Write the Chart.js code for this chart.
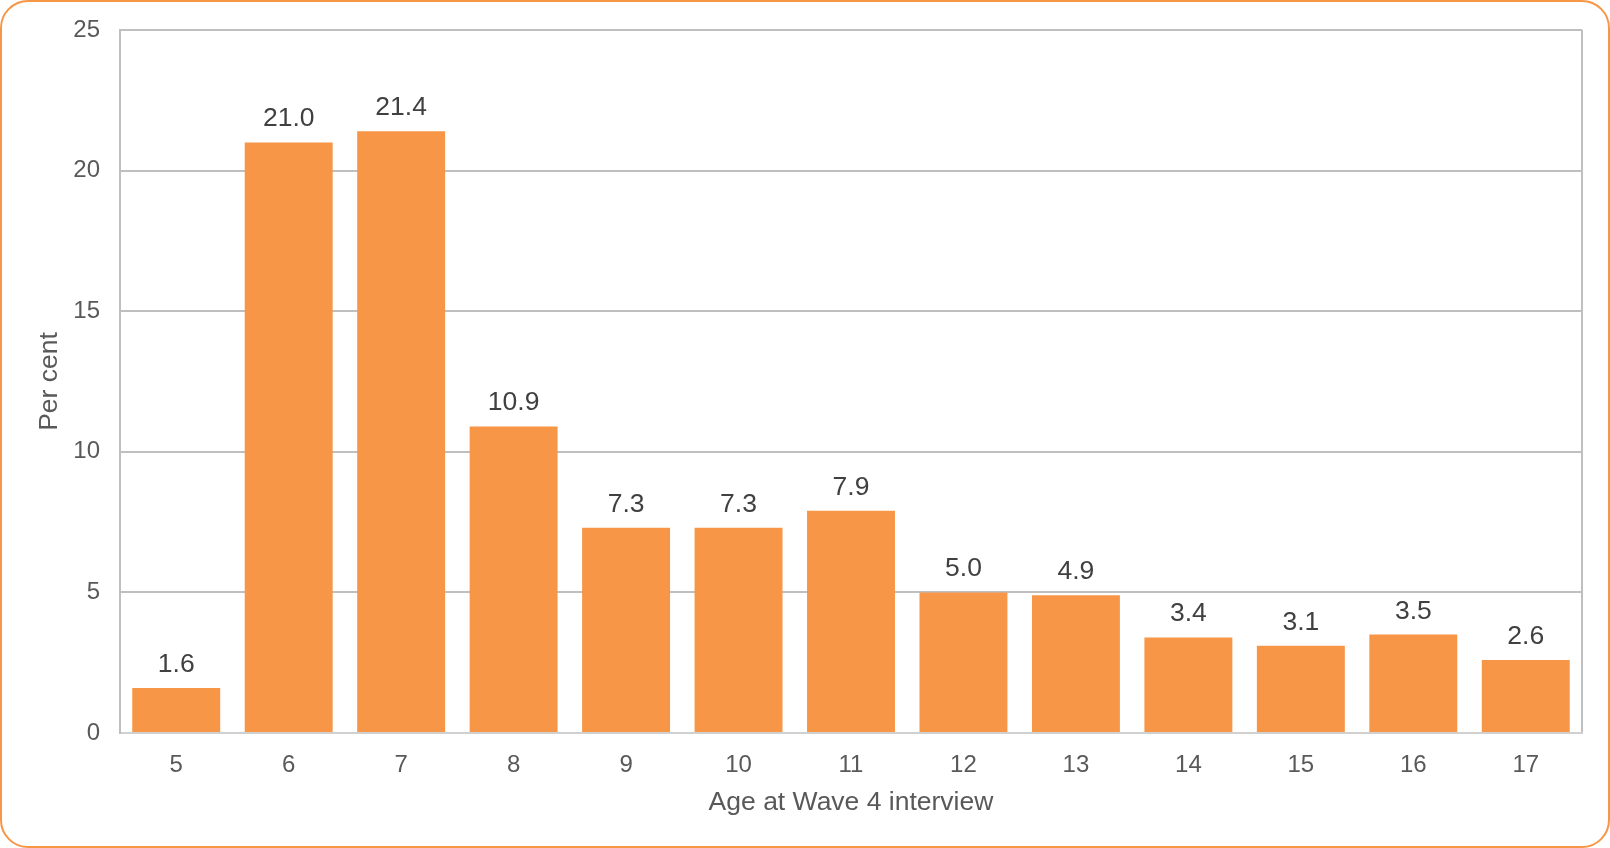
<!DOCTYPE html>
<html>
<head>
<meta charset="utf-8">
<title>Age at Wave 4 interview</title>
<script src="https://cdn.jsdelivr.net/npm/chart.js@4.4.1/dist/chart.umd.min.js"></script>
<style>
  html, body { margin: 0; padding: 0; background: #ffffff; }
  .chart-wrap { position: relative; width: 1610px; height: 848px; }
  .chart-frame {
    position: absolute; left: 0; top: 0; right: 0; bottom: 0;
    border: 2px solid #F79646; border-radius: 28px;
    pointer-events: none;
  }
  canvas { display: block; }
</style>
</head>
<body>
<div class="chart-wrap">
  <canvas id="ageChart" width="1610" height="848"></canvas>
  <div class="chart-frame"></div>
</div>
<script>
// Share of respondents by age at the Wave 4 interview
const ages = ['5', '6', '7', '8', '9', '10', '11', '12', '13', '14', '15', '16', '17'];
const perCent = [1.6, 21.0, 21.4, 10.9, 7.3, 7.3, 7.9, 5.0, 4.9, 3.4, 3.1, 3.5, 2.6];
const yTicks = [0, 5, 10, 15, 20, 25];

const FONT = '"Liberation Sans", Arial, sans-serif';
const GRID = '#BFBFBF';

// Writes each bar's value just above it
const barValues = {
  id: 'barValues',
  afterDatasetsDraw(chart) {
    const ctx = chart.ctx;
    const meta = chart.getDatasetMeta(0);
    ctx.save();
    ctx.font = '26.5px ' + FONT;
    ctx.fillStyle = '#404040';
    ctx.textAlign = 'center';
    ctx.textBaseline = 'alphabetic';
    meta.data.forEach((bar, i) => {
      ctx.fillText(perCent[i].toFixed(1), bar.x, bar.y - 16);
    });
    ctx.restore();
  }
};

new Chart(document.getElementById('ageChart'), {
  type: 'bar',
  data: {
    labels: ages,
    datasets: [{
      data: perCent,
      backgroundColor: '#F79646',
      borderWidth: 0,
      barPercentage: 0.782,
      categoryPercentage: 1.0
    }]
  },
  options: {
    responsive: false,
    animation: false,
    layout: { padding: { left: 0, top: 30, right: 28, bottom: 0 } },
    plugins: {
      legend: { display: false },
      tooltip: { enabled: false }
    },
    scales: {
      x: {
        afterFit(scale) { scale.height = 115; },
        grid: {
          drawTicks: false,
          lineWidth: 2,
          // only the right-hand edge of the plot frame
          color: (c) => (c.index === undefined ? GRID : 'rgba(0,0,0,0)')
        },
        border: { display: true, color: '#D0D0D0', width: 2 },
        ticks: {
          padding: 18,
          color: '#595959',
          font: { family: FONT, size: 24 }
        },
        title: {
          display: true,
          text: 'Age at Wave 4 interview',
          color: '#595959',
          font: { family: FONT, size: 26.5 },
          padding: { top: 0, bottom: 29 }
        }
      },
      y: {
        min: 0,
        max: 25,
        afterFit(scale) {
          scale.width = 120;
          // keep the plot top fixed by the layout padding
          scale.paddingTop = 0;
          scale.paddingBottom = 0;
        },
        afterBuildTicks(scale) {
          scale.ticks = yTicks.map(v => ({ value: v }));
        },
        grid: {
          drawTicks: false,
          lineWidth: 2,
          color: GRID
        },
        border: { display: true, color: GRID, width: 2 },
        ticks: {
          padding: 20,
          color: '#595959',
          font: { family: FONT, size: 24 }
        },
        title: {
          display: true,
          text: 'Per cent',
          color: '#595959',
          font: { family: FONT, size: 26.5 },
          padding: { top: 34, bottom: 0 }
        }
      }
    }
  },
  plugins: [barValues]
});
</script>
</body>
</html>
